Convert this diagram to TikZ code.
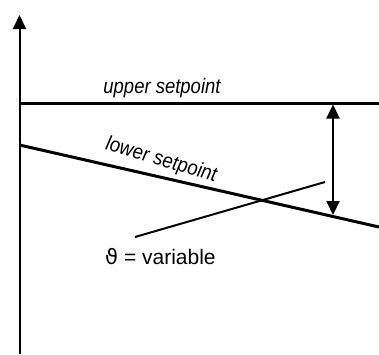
\documentclass[tikz,border=0pt]{standalone}
\usepackage{fontspec}
\setmainfont{Liberation Sans}
\newfontfamily\thetafont{DejaVu Sans}
\usetikzlibrary{arrows.meta}

\begin{document}
\begin{tikzpicture}[x=1pt,y=-1pt]
	\tikzset{>={Triangle[length=14pt,width=13pt]}}
	\tikzset{setline/.style={line width=3pt}, thinline/.style={line width=2pt},
		setlabel/.style={inner sep=0pt,xscale=0.88,font=\fontsize{21}{23}\selectfont\itshape}}
	\useasboundingbox (0,0) rectangle (379,354);
	% axis
	\coordinate (O) at (19.5,354);
	\coordinate (T) at (19.5,15);
	\draw[->,thinline] (O) -- (T);
	% setpoints
	\coordinate (U0) at (19.5,103);
	\coordinate (U1) at (379,103);
	\coordinate (L0) at (19.5,145);
	\coordinate (L1) at (379,227);
	\draw[setline] (U0) -- (U1);
	\draw[setline] (L0) -- (L1);
	\node[setlabel,anchor=base] (up) at (162,93) {upper setpoint};
	\node[setlabel,anchor=base,rotate=-14.5] (low) at (160,166) {lower setpoint};
	% hysteresis
	\coordinate (A) at (333,104.5);
	\coordinate (B) at (333,215);
	\draw[<->,thinline] (A) -- (B);
	% variable
	\coordinate (V0) at (135,237);
	\coordinate (V1) at (325,182);
	\draw[thinline] (V0) -- (V1);
	\node[anchor=base west,inner sep=0pt,font=\fontsize{21}{24}\selectfont] (var) at (105,264) {{\thetafont ϑ} = variable};
\end{tikzpicture}
\end{document}
